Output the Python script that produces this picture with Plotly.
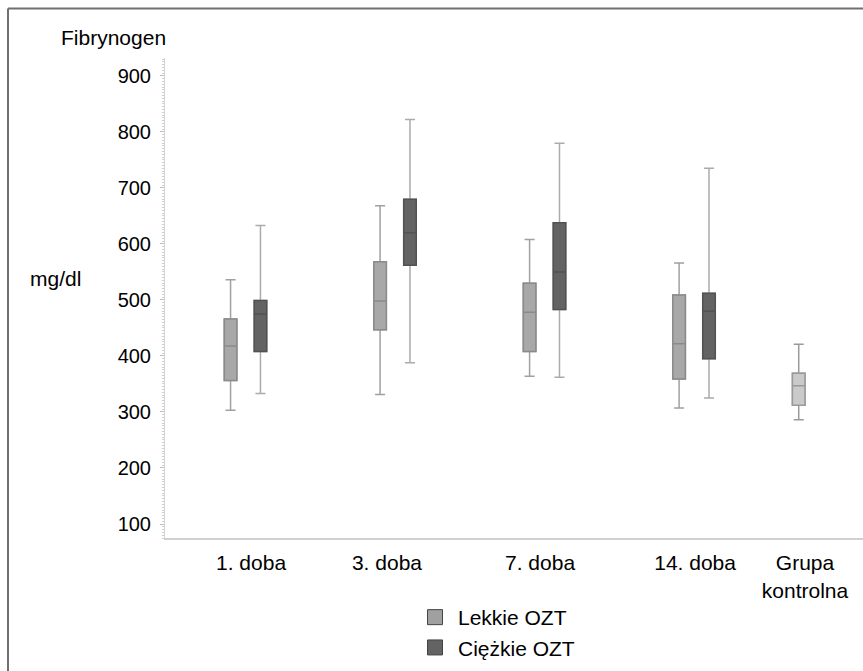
import plotly.graph_objects as go

# ---------------- data ----------------
categories = ["1. doba", "3. doba", "7. doba", "14. doba"]
control_label = "Grupa<br>kontrolna"

light_name = "Lekkie OZT"
light_lower = [303, 331, 364, 307]
light_q1 = [356, 447, 408, 359]
light_median = [418, 498, 478, 422]
light_q3 = [466, 568, 530, 509]
light_upper = [536, 668, 608, 566]

dark_name = "Ciężkie OZT"
dark_lower = [333, 388, 362, 325]
dark_q1 = [408, 562, 483, 395]
dark_median = [475, 620, 550, 480]
dark_q3 = [499, 680, 638, 512]
dark_upper = [633, 822, 780, 735]

control_lower = [286]
control_q1 = [312]
control_median = [347]
control_q3 = [369]
control_upper = [421]

y_tick_vals = [100, 200, 300, 400, 500, 600, 700, 800, 900]

# ---------------- layout constants ----------------
W, H = 863, 671
ML, MR, MT, MB = 165, 0, 58, 133
PW, PH = W - ML - MR, H - MT - MB
cat_pos = [1, 2, 3, 4]
ctrl_pos = 4.70
offset = 0.10
box_w = 0.084
x_range = [0.4615, 5.13]
y_range = [75, 932]
label_pos = [1.037, 1.946, 2.97, 4.007, 4.742]
FONT = "Liberation Sans, Arial, sans-serif"

def px_x(p):
    return (p - ML) / PW

def px_y(p):
    return (H - MB - p) / PH

fig = go.Figure()

def add_box(xs, lo, q1, med, q3, up, fill, border, whisk):
    # whisker layer
    fig.add_trace(go.Box(
        x=xs, lowerfence=lo, q1=q1, median=med, q3=q3, upperfence=up,
        width=box_w, whiskerwidth=0.8, fillcolor="rgba(0,0,0,0)",
        line=dict(color=whisk, width=1.5), boxpoints=False,
        showlegend=False, hoverinfo="skip"))
    # box layer
    fig.add_trace(go.Box(
        x=xs, lowerfence=q1, q1=q1, median=med, q3=q3, upperfence=q3,
        width=box_w, whiskerwidth=0, fillcolor=fill,
        line=dict(color=border, width=1.5), boxpoints=False,
        showlegend=False))

add_box([p - offset for p in cat_pos], light_lower, light_q1, light_median,
        light_q3, light_upper, "#a8a8a8", "#8a8a8a", "#a0a0a0")
add_box([p + offset for p in cat_pos], dark_lower, dark_q1, dark_median,
        dark_q3, dark_upper, "#636363", "#525252", "#ababab")
add_box([ctrl_pos], control_lower, control_q1, control_median,
        control_q3, control_upper, "#cacaca", "#9a9a9a", "#9a9a9a")

# legend entries
for name, col in [(light_name, "#a0a0a0"), (dark_name, "#636363")]:
    fig.add_trace(go.Scatter(
        x=[None], y=[None], mode="markers", name=name,
        marker=dict(symbol="square", size=15, color=col,
                    line=dict(color="#444444", width=1))))

fig.update_layout(
    width=W, height=H,
    margin=dict(l=ML, r=MR, t=MT, b=MB, pad=0, autoexpand=False),
    paper_bgcolor="white", plot_bgcolor="white",
    font=dict(family=FONT, size=21, color="black"),
    boxmode="overlay",
    showlegend=True,
    legend=dict(x=px_x(412), y=px_y(597), xanchor="left", yanchor="top",
                orientation="v", font=dict(size=21, family=FONT),
                bgcolor="rgba(0,0,0,0)", tracegroupgap=0, itemwidth=36),
    xaxis=dict(range=x_range, showgrid=False, zeroline=False,
               showline=True, linecolor="#d0d0d0", linewidth=2,
               tickmode="array", tickvals=label_pos,
               ticktext=categories + [control_label], ticks="",
               tickfont=dict(size=21, family=FONT), ticklabelstandoff=5,
               automargin=False),
    yaxis=dict(range=y_range, showgrid=False, zeroline=False,
               showline=True, linecolor="#d4d4d4", linewidth=1,
               tickmode="array", tickvals=y_tick_vals,
               ticks="outside", ticklen=4, tickcolor="#c0c0c0",
               tickfont=dict(size=20, family=FONT), ticklabelstandoff=5,
               automargin=False,
               minor=dict(dtick=5, ticks="outside", ticklen=2,
                          tickcolor="#d0d0d0")),
    annotations=[
        dict(text="Fibrynogen", xref="paper", yref="paper",
             x=px_x(59), y=px_y(37), xanchor="left", yanchor="middle",
             showarrow=False, font=dict(size=21, family=FONT)),
        dict(text="mg/dl", xref="paper", yref="paper",
             x=px_x(28), y=px_y(278), xanchor="left", yanchor="middle",
             showarrow=False, font=dict(size=21, family=FONT)),
    ],
    shapes=[
        dict(type="line", xref="paper", yref="paper",
             x0=px_x(8), x1=px_x(W + 5), y0=px_y(8.5), y1=px_y(8.5),
             line=dict(color="#707070", width=2)),
        dict(type="line", xref="paper", yref="paper",
             x0=px_x(8), x1=px_x(8), y0=px_y(8.5), y1=px_y(H + 5),
             line=dict(color="#707070", width=2)),
    ],
)

fig.write_html(
    "out.html",
    config={"displayModeBar": False},
    post_script="document.body.style.margin='0';"
                "document.body.style.overflow='hidden';",
)
